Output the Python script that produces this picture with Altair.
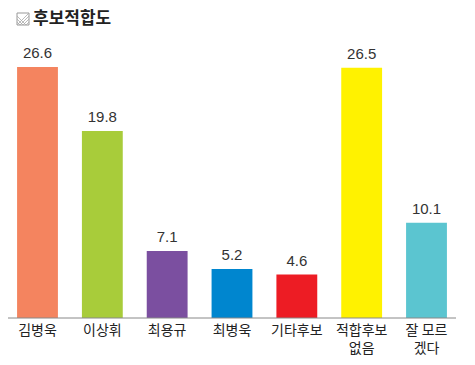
import altair as alt
import pandas as pd

categories = ["김병욱", "이상휘", "최용규", "최병욱", "기타후보", "적합후보\n없음", "잘 모르\n겠다"]
values = [26.6, 19.8, 7.1, 5.2, 4.6, 26.5, 10.1]
colors = ["#F4845F", "#A8CC3A", "#7B4FA0", "#0086CF", "#ED1C24", "#FFF200", "#5BC5D0"]
labels = ["26.6", "19.8", "7.1", "5.2", "4.6", "26.5", "10.1"]
title_text = "후보적합도"

df = pd.DataFrame({"cat": categories, "val": values, "color": colors, "label": labels})

W = 448
H = 270

xscale = alt.Scale(domain=categories, paddingInner=0.37, paddingOuter=0.14)
yscale = alt.Scale(domain=[0, 28.6])

base = alt.Chart(df)

bars = base.mark_bar().encode(
    x=alt.X("cat:N", scale=xscale, axis=None, sort=categories),
    y=alt.Y("val:Q", scale=yscale, axis=None),
    color=alt.Color("color:N", scale=None),
)

vals = base.mark_text(baseline="bottom", dy=-6, fontSize=15, font="Liberation Sans",
                      color="#333333").encode(
    x=alt.X("cat:N", scale=xscale, sort=categories),
    y=alt.Y("val:Q", scale=yscale),
    text="label:N",
)

cats = base.mark_text(baseline="top", fontSize=14, font="Noto Sans CJK KR", color="#222222",
                      lineBreak="\n", lineHeight=18).encode(
    x=alt.X("cat:N", scale=xscale, sort=categories),
    y=alt.value(H + 6),
    text="cat:N",
)

baseline = alt.Chart(pd.DataFrame({"a": [0]})).mark_rule(color="#888888", strokeWidth=1).encode(
    x=alt.value(-3), x2=alt.value(452), y=alt.value(H)
)

# title icon: hatched square
icon = alt.Chart(pd.DataFrame({"a": [0]})).mark_rect(fill="white", stroke="#999999",
                                                      strokeWidth=1).encode(
    x=alt.value(9), x2=alt.value(21), y=alt.value(-35), y2=alt.value(-23)
)
hatch_df = pd.DataFrame({
    "x1": [9, 9, 9, 12, 15, 18, 9],
    "y1": [-26, -29, -32, -23, -23, -23, -23],
    "x2": [12, 15, 18, 21, 21, 21, 21],
    "y2": [-23, -23, -23, -32, -29, -26, -35],
})
hatch = alt.Chart(hatch_df).mark_rule(color="#AAAAAA", strokeWidth=0.8).encode(
    x=alt.X("x1:Q", scale=None), y=alt.Y("y1:Q", scale=None),
    x2="x2:Q", y2="y2:Q",
)
title = alt.Chart(pd.DataFrame({"t": [title_text]})).mark_text(
    align="left", baseline="middle", fontSize=17, fontWeight="bold",
    font="Noto Sans CJK KR", color="#222222"
).encode(x=alt.value(25), y=alt.value(-29), text="t:N")

chart = alt.layer(bars, vals, cats, baseline, icon, hatch, title).properties(
    width=W, height=H,
    autosize=alt.AutoSizeParams(type="none"),
    padding={"left": 0, "top": 40, "right": 0, "bottom": 48},
).configure_view(stroke=None)

chart.save("out.html", embed_options={"renderer": "svg", "actions": False})
